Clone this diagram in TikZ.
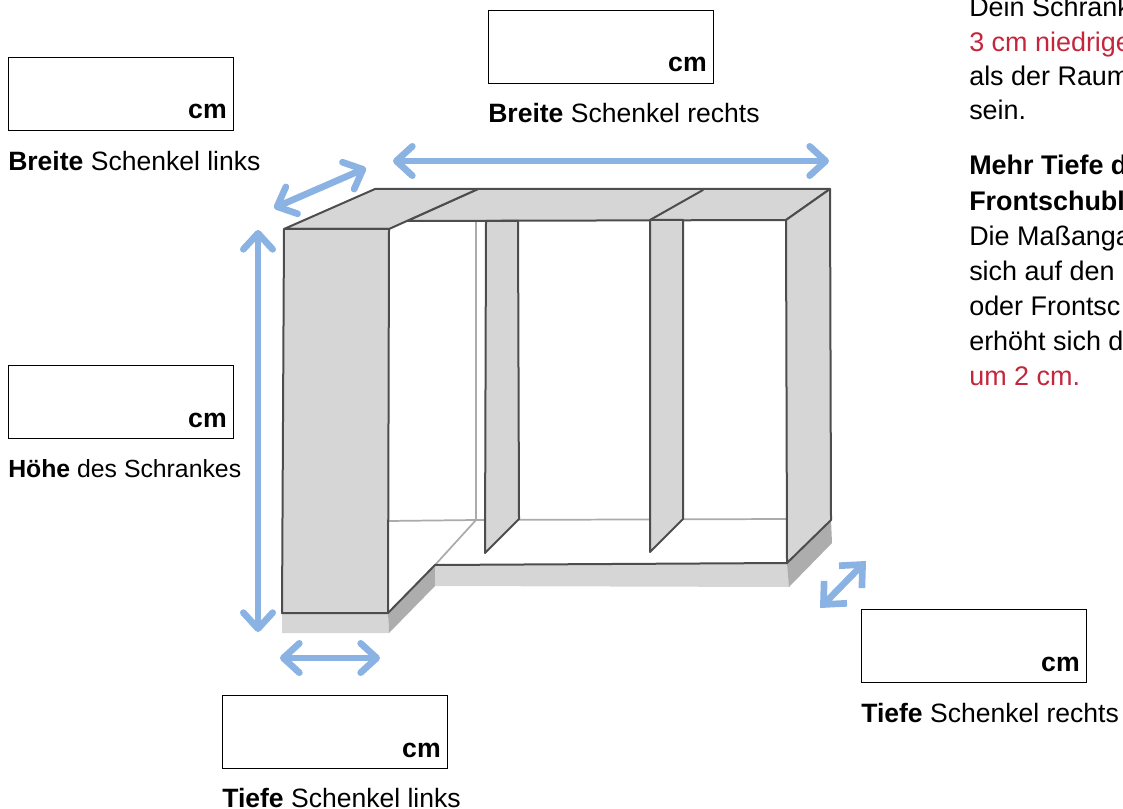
\documentclass[tikz,border=0pt]{standalone}
\usepackage{fontspec}
\setmainfont{Liberation Sans}
\usetikzlibrary{arrows.meta}
\definecolor{panelfill}{HTML}{D6D6D6}
\definecolor{plinthdark}{HTML}{ADADAD}
\definecolor{edgedark}{HTML}{4D4D4D}
\definecolor{edgelight}{HTML}{ABABAB}
\definecolor{arrowblue}{HTML}{8AB2E2}
\definecolor{notered}{HTML}{C4263C}
\tikzset{
  px/.style={x=0.75pt,y=-0.75pt},
  panel/.style={fill=panelfill,draw=edgedark,line width=1.5pt,line join=round},
  plinthlight/.style={fill=panelfill,draw=none},
  plinthshade/.style={fill=plinthdark,draw=none},
  edge/.style={draw=edgedark,line width=1.5pt,line cap=round},
  inner/.style={draw=edgelight,line width=1.3pt},
  dim/.style={draw=arrowblue,line width=5pt,line cap=round,{Straight Barb[round,length=12pt,width=22pt,line width=5pt]}-{Straight Barb[round,length=12pt,width=22pt,line width=5pt]}},
  dimsharp/.style={draw=arrowblue,line width=5pt,{Straight Barb[length=13pt,width=24pt,line width=5pt]}-{Straight Barb[length=13pt,width=24pt,line width=5pt]}},
  inputbox/.style={draw=black,line width=0.75pt,fill=white,minimum width=169pt,minimum height=55pt,inner sep=0pt,anchor=north west},
  unit/.style={font=\fontsize{20}{22}\selectfont\bfseries,inner sep=0pt,anchor=base east},
  lab/.style={font=\fontsize{19.9}{22}\selectfont,inner sep=0pt,anchor=base west},
  labnarrow/.style={font=\fontsize{18.6}{22}\selectfont,inner sep=0pt,anchor=base west},
  note/.style={font=\fontsize{20.2}{22}\selectfont,inner sep=0pt,anchor=base west},
  notebold/.style={font=\fontsize{20.2}{22}\selectfont\bfseries,inner sep=0pt,anchor=base west},
}
\begin{document}
\begin{tikzpicture}[px]
\useasboundingbox (0,0) rectangle (1123,809);
\clip (0,0) rectangle (1123,809);
% plinth
\fill[plinthlight] (282,613) -- (388,613) -- (389,633) -- (282,633) -- cycle;
\fill[plinthshade] (388,613) -- (435,565) -- (435,586) -- (389,633) -- cycle;
\fill[plinthlight] (435,565) -- (788,563) -- (789,587) -- (435,586) -- cycle;
\fill[plinthshade] (787,563) -- (831,520) -- (832,543) -- (789,587) -- cycle;
% interior lines
\draw[inner] (388,521) -- (476,520) -- (786,519);
\draw[inner] (476,221) -- (476,520) -- (435,565);
% top
\filldraw[panel] (407,221) -- (478,189) -- (830,189) -- (786,220) -- cycle;
\draw[edge] (650,220) -- (703,190);
% dividers
\filldraw[panel] (486,221) -- (518,221) -- (519,519) -- (485,553) -- cycle;
\filldraw[panel] (650,220) -- (683,220) -- (683,519) -- (650,552) -- cycle;
% right panel
\filldraw[panel] (786,220) -- (830,189) -- (831,520) -- (787,563) -- cycle;
% floor front edges
\draw[edge] (388,613) -- (435,565) -- (787,563);
% left column
\filldraw[panel] (284,229) -- (375,189) -- (478,189) -- (389,229) -- cycle;
\filldraw[panel] (284,229) -- (389,229) -- (388,613) -- (282,613) -- cycle;
% dimension arrows
\coordinate (wrA) at (393,161); \coordinate (wrB) at (829,161);
\coordinate (wlA) at (274,208); \coordinate (wlB) at (366,168);
\coordinate (hA) at (258,230); \coordinate (hB) at (258,632);
\coordinate (dlA) at (280,658); \coordinate (dlB) at (380,658);
\coordinate (drA) at (820,608); \coordinate (drB) at (866,561);
\draw[dim] (wrA) -- (wrB);
\draw[dim] (wlA) -- (wlB);
\draw[dim] (hA) -- (hB);
\draw[dim] (dlA) -- (dlB);
\draw[dimsharp] (drA) -- (drB);
% input boxes
\node[inputbox] (boxWL) at (8,57) {};
\node[inputbox] (boxWR) at (488,10) {};
\node[inputbox] (boxH) at (8,365) {};
\node[inputbox] (boxDL) at (222,695) {};
\node[inputbox] (boxDR) at (861,609) {};
\node[unit] (cmWL) at (227,119) {cm};
\node[unit] (cmWR) at (707,72) {cm};
\node[unit] (cmH) at (227,427) {cm};
\node[unit] (cmDL) at (441,757) {cm};
\node[unit] (cmDR) at (1080,671) {cm};
\node[lab] (labWL) at (8,171) {\textbf{Breite} Schenkel links};
\node[lab] (labWR) at (488,123) {\textbf{Breite} Schenkel rechts};
\node[labnarrow] (labH) at (8,477) {\textbf{Höhe} des Schrankes};
\node[lab] (labDL) at (222,807) {\textbf{Tiefe} Schenkel links};
\node[lab] (labDR) at (861,722) {\textbf{Tiefe} Schenkel rechts};
% note
\node[note] (n1) at (969,17) {Dein Schrank};
\node[note,text=notered] (n2) at (969,52) {3 cm niedrige};
\node[note] (n3) at (969,86) {als der Raum};
\node[note] (n4) at (969,120) {sein.};
\node[notebold] (n5) at (969,175) {Mehr Tiefe d};
\node[notebold] (n6) at (969,210) {Frontschubl};
\node[note] (n7) at (969,245) {Die Maßanga};
\node[note] (n8) at (969,280) {sich auf den};
\node[note] (n9) at (969,315) {oder Frontsc};
\node[note] (n10) at (969,350) {erhöht sich d};
\node[note,text=notered] (n11) at (969,385) {um 2 cm.};
\end{tikzpicture}
\end{document}
